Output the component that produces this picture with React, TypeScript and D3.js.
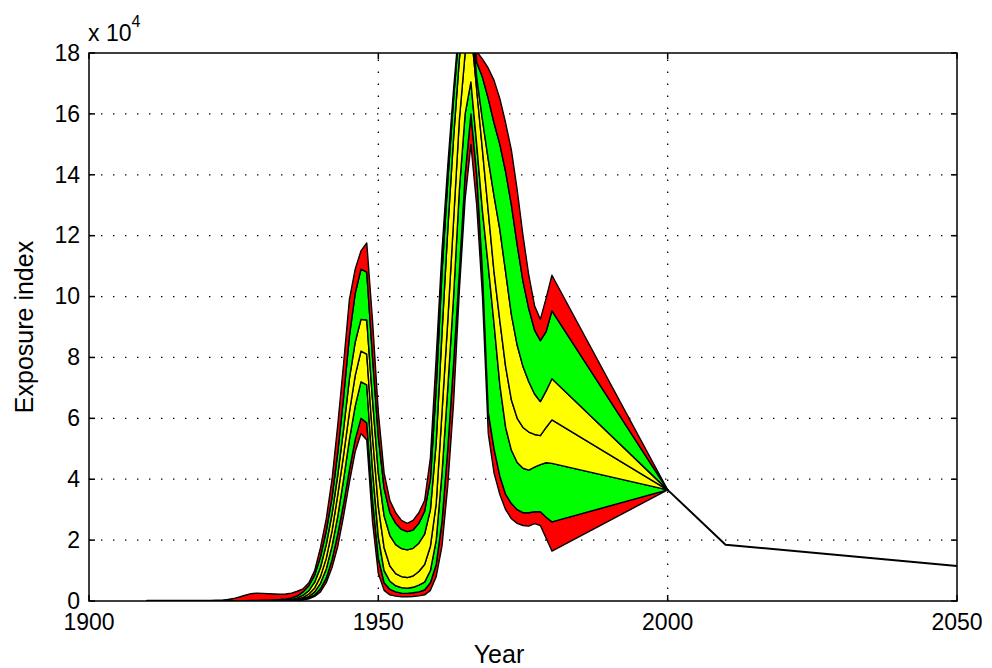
import React from "react";
import * as d3 from "d3";

// Annual series, 1910–1980, then the 2000 anchor where all envelopes meet.
const years = [
  1910, 1911, 1912, 1913, 1914, 1915, 1916, 1917, 1918, 1919,
  1920, 1921, 1922, 1923, 1924, 1925, 1926, 1927, 1928, 1929,
  1930, 1931, 1932, 1933, 1934, 1935, 1936, 1937, 1938, 1939,
  1940, 1941, 1942, 1943, 1944, 1945, 1946, 1947, 1948, 1949,
  1950, 1951, 1952, 1953, 1954, 1955, 1956, 1957, 1958, 1959,
  1960, 1961, 1962, 1963, 1964, 1965, 1966, 1967, 1968, 1969,
  1970, 1971, 1972, 1973, 1974, 1975, 1976, 1977, 1978, 1979,
  1980, 2000,
];

// Envelope curves, from the lowest bound up to the highest bound.
const lowOuter = [
  0, 0, 0, 0, 0, 0, 0, 0, 0, 0,
  0, 0, 0, 0, 0, 0, 0, 0, 0, 0,
  0, 0, 0, 0, 20, 50, 120, 300, 700, 1500,
  3000, 6000, 11000, 18000, 28000, 39000, 49000, 55000, 52900, 26000,
  9000, 3500, 2000, 1600, 1400, 1400, 1500, 1700, 2000, 3500,
  8000, 18000, 38000, 65000, 102000, 132000, 150000, 130000, 100000, 55000,
  42000, 35000, 30000, 27000, 25500, 24800, 24600, 25400, 24800, 20600,
  16400, 36500,
];
const lowMid = [
  0, 0, 0, 0, 0, 0, 0, 0, 0, 0,
  0, 0, 0, 0, 0, 0, 0, 0, 0, 0,
  0, 0, 0, 0, 40, 80, 200, 500, 1000, 2000,
  4000, 7500, 13500, 22000, 32000, 43000, 53000, 60000, 58500, 33000,
  14000, 6000, 3800, 3000, 2600, 2500, 2700, 3000, 3600, 6000,
  12000, 26000, 50000, 78000, 108000, 140000, 160000, 140000, 108000, 62000,
  50000, 41000, 35000, 32000, 30000, 29000, 29000, 29300, 29300, 27500,
  26000, 36500,
];
const lowInner = [
  0, 0, 0, 0, 0, 0, 0, 0, 0, 0,
  0, 0, 0, 0, 0, 0, 0, 0, 0, 0,
  0, 0, 0, 50, 90, 150, 350, 800, 1500, 3000,
  5800, 10500, 18000, 28000, 40000, 53000, 64000, 72000, 71000, 43000,
  21000, 10000, 6500, 5000, 4400, 4200, 4500, 5200, 6200, 10000,
  20000, 42000, 70000, 100000, 135000, 160000, 170500, 150000, 128000, 110000,
  91000, 71000, 57000, 49500, 45500, 43600, 43000, 44000, 44800, 45400,
  45200, 36500,
];
const median = [
  0, 0, 0, 0, 0, 0, 0, 0, 0, 0,
  0, 0, 0, 0, 0, 0, 0, 0, 0, 0,
  0, 0, 50, 100, 180, 300, 600, 1200, 2300, 4300,
  8000, 14000, 23000, 35000, 48000, 62000, 74000, 82100, 81100, 54000,
  31000, 17500, 11500, 9000, 8000, 7700, 8200, 9700, 12000, 18000,
  32000, 62000, 92000, 125000, 158000, 180000, 188000, 168000, 148000, 128000,
  108000, 92000, 77000, 66000, 60000, 57000, 55500, 54700, 54300, 57000,
  59500, 36500,
];
const highInner = [
  0, 0, 0, 0, 0, 0, 0, 0, 0, 0,
  0, 0, 0, 0, 0, 0, 0, 0, 0, 0,
  100, 150, 200, 250, 350, 500, 1000, 1900, 3400, 6200,
  11000, 18500, 28500, 41500, 56500, 73000, 85000, 92500, 92300, 66000,
  42000, 28000, 21500, 18500, 17200, 16800, 17300, 19000, 22000, 30000,
  52000, 88000, 122000, 152000, 178000, 195000, 194000, 172000, 158000, 145000,
  133000, 122000, 108000, 94000, 84000, 77000, 72000, 68000, 65500, 69000,
  73000, 36500,
];
const highMid = [
  0, 0, 0, 0, 0, 0, 0, 0, 0, 0,
  0, 0, 0, 0, 0, 0, 50, 100, 150, 200,
  250, 300, 400, 500, 700, 1000, 1700, 3000, 5000, 8500,
  14500, 23000, 34000, 49000, 67000, 87000, 101000, 109000, 108000, 80000,
  54000, 37000, 29000, 25500, 23500, 22800, 23300, 25500, 29500, 40000,
  70000, 108000, 138000, 165000, 188000, 200000, 198000, 177000, 172000, 165000,
  157000, 150000, 141000, 130000, 117000, 105000, 96000, 89000, 85500, 88500,
  95300, 36500,
];
const highOuter = [
  200, 200, 200, 200, 200, 200, 200, 200, 200, 200,
  200, 200, 250, 300, 500, 800, 1300, 1900, 2400, 2600,
  2500, 2400, 2300, 2200, 2300, 2600, 3200, 4000, 6000, 10000,
  17500, 27000, 40000, 58000, 78000, 99000, 109000, 115000, 117600, 92000,
  62000, 42000, 33000, 29000, 26500, 25500, 26500, 29000, 33000, 47000,
  80000, 115000, 143000, 168000, 190000, 205000, 205000, 180500, 178000, 175000,
  171000, 165000, 157000, 148000, 135000, 120000, 107000, 97000, 92500, 99500,
  107000, 36500,
];

// Single projected path after 2000.
const projectionYears = [2000, 2010, 2050];
const projectionValues = [36500, 18500, 11500];

const envelopes = [lowOuter, lowMid, lowInner, median, highInner, highMid, highOuter];
const bandColors = ["#ff0000", "#00ff00", "#ffff00", "#ffff00", "#00ff00", "#ff0000"];

const xTicks = [1900, 1950, 2000, 2050];
const yTicks = [0, 20000, 40000, 60000, 80000, 100000, 120000, 140000, 160000, 180000];
const yTickLabels = ["0", "2", "4", "6", "8", "10", "12", "14", "16", "18"];

const FONT = "'Liberation Sans', Arial, Helvetica, sans-serif";

export default function App() {
  const W = 992;
  const H = 668;
  const left = 89;
  const right = 957;
  const top = 53;
  const bottom = 601;

  const x = d3.scaleLinear().domain([1900, 2050]).range([left, right]);
  const y = d3.scaleLinear().domain([0, 180000]).range([bottom, top]);

  const bands = bandColors.map((color, k) => {
    const lower = envelopes[k];
    const upper = envelopes[k + 1];
    const area = d3
      .area<number>()
      .x((_, i) => x(years[i]))
      .y0((_, i) => y(lower[i]))
      .y1((_, i) => y(upper[i]));
    return { color, d: area(years) || "" };
  });

  const projLine =
    d3
      .line<number>()
      .x((_, i) => x(projectionYears[i]))
      .y((_, i) => y(projectionValues[i]))(projectionYears) || "";

  const tickLen = 6;

  return (
    <svg
      width={W}
      height={H}
      style={{ position: "absolute", left: 0, top: 0, background: "#fff" }}
      fontFamily={FONT}
    >
      <defs>
        <clipPath id="plotArea">
          <rect x={left} y={top} width={right - left} height={bottom - top} />
        </clipPath>
      </defs>
      <rect x={0} y={0} width={W} height={H} fill="#fff" />

      {/* dotted grid */}
      <g stroke="#000" strokeWidth={1.3} strokeDasharray="1.4 10.6">
        {xTicks
          .filter((t) => t !== 1900 && t !== 2050)
          .map((t) => (
            <line key={"gx" + t} x1={x(t)} x2={x(t)} y1={bottom} y2={top} />
          ))}
        {yTicks
          .filter((t) => t !== 0 && t !== 180000)
          .map((t) => (
            <line key={"gy" + t} x1={left} x2={right} y1={y(t)} y2={y(t)} />
          ))}
      </g>

      {/* envelope bands */}
      <g clipPath="url(#plotArea)">
        {bands.map((b, k) => (
          <path
            key={"band" + k}
            d={b.d}
            fill={b.color}
            stroke="#000"
            strokeWidth={1.4}
            strokeLinejoin="round"
          />
        ))}
        <path d={projLine} fill="none" stroke="#000" strokeWidth={2} strokeLinejoin="round" />
      </g>

      {/* axes box and inward ticks */}
      <g stroke="#000" strokeWidth={1.5} fill="none">
        <rect x={left} y={top} width={right - left} height={bottom - top} />
        {xTicks.map((t) => (
          <g key={"tx" + t}>
            <line x1={x(t)} x2={x(t)} y1={bottom} y2={bottom - tickLen} />
            <line x1={x(t)} x2={x(t)} y1={top} y2={top + tickLen} />
          </g>
        ))}
        {yTicks.map((t) => (
          <g key={"ty" + t}>
            <line x1={left} x2={left + tickLen} y1={y(t)} y2={y(t)} />
            <line x1={right} x2={right - tickLen} y1={y(t)} y2={y(t)} />
          </g>
        ))}
      </g>

      {/* tick labels */}
      <g fontSize={23} fill="#000">
        {xTicks.map((t) => (
          <text key={"lx" + t} x={x(t)} y={630} textAnchor="middle">
            {t}
          </text>
        ))}
        {yTicks.map((t, i) => (
          <text key={"ly" + t} x={80} y={y(t)} dy="0.34em" textAnchor="end">
            {yTickLabels[i]}
          </text>
        ))}
      </g>

      {/* exponent note */}
      <text x={88} y={41} fontSize={23} fill="#000">
        x 10
        <tspan dy={-14} fontSize={16}>
          4
        </tspan>
      </text>

      {/* axis titles */}
      <text x={499} y={663} fontSize={25} textAnchor="middle" fill="#000">
        Year
      </text>
      <text
        transform={`translate(33, ${(top + bottom) / 2}) rotate(-90)`}
        fontSize={25}
        textAnchor="middle"
        fill="#000"
      >
        Exposure index
      </text>
    </svg>
  );
}
